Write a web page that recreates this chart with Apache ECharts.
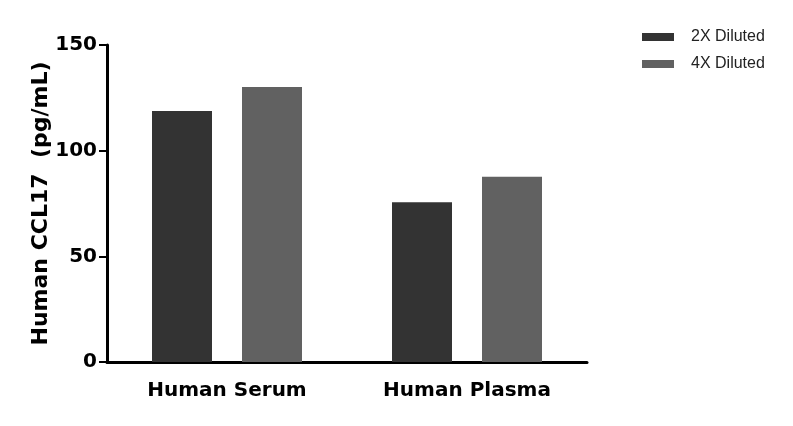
<!DOCTYPE html>
<html>
<head>
<meta charset="utf-8">
<script src="https://cdn.jsdelivr.net/npm/echarts@6/dist/echarts.min.js"></script>
<style>
  html, body { margin: 0; padding: 0; background: #fff; }
  #chart { width: 793px; height: 426px; }
</style>
</head>
<body>
<div id="chart"></div>
<script>
var categories = ['Human Serum', 'Human Plasma'];
var diluted2x = [118.8, 75.6];
var diluted4x = [130.1, 87.7];
var yTicks = [0, 50, 100, 150];

var chart = echarts.init(document.getElementById('chart'));

var option = {
  animation: false,
  backgroundColor: '#fff',
  grid: {
    left: 107,
    top: 45,
    width: 480,
    height: 317
  },
  legend: {
    orient: 'vertical',
    left: 637,
    top: 24,
    itemWidth: 32,
    itemHeight: 8,
    itemGap: 11,
    icon: 'rect',
    textStyle: {
      fontFamily: 'Liberation Sans',
      fontSize: 16,
      color: '#222',
      padding: [0, 0, 0, 12]
    },
    data: ['2X Diluted', '4X Diluted']
  },
  xAxis: {
    type: 'category',
    data: categories,
    axisLine: { lineStyle: { color: '#000', width: 3 } },
    axisTick: { alignWithLabel: true, length: 7, lineStyle: { color: '#000', width: 2 } },
    axisLabel: {
      margin: 19,
      fontFamily: 'DejaVu Sans',
      fontWeight: 'bold',
      fontSize: 20,
      color: '#000'
    }
  },
  yAxis: {
    type: 'value',
    min: yTicks[0],
    max: yTicks[yTicks.length - 1],
    interval: 50,
    name: 'Human CCL17  (pg/mL)',
    nameLocation: 'middle',
    nameGap: 55,
    nameMoveOverlap: false,
    nameTextStyle: {
      fontFamily: 'DejaVu Sans',
      fontWeight: 'bold',
      fontSize: 22,
      color: '#000'
    },
    splitLine: { show: false },
    axisLine: { show: true, lineStyle: { color: '#000', width: 3 } },
    axisTick: { show: true, length: 8, lineStyle: { color: '#000', width: 2 } },
    axisLabel: {
      margin: 10,
      fontFamily: 'DejaVu Sans',
      fontWeight: 'bold',
      fontSize: 20,
      color: '#000'
    }
  },
  series: [
    {
      name: '2X Diluted',
      type: 'bar',
      data: diluted2x,
      barWidth: 60,
      barGap: '50%',
      itemStyle: { color: '#333333' }
    },
    {
      name: '4X Diluted',
      type: 'bar',
      data: diluted4x,
      barWidth: 60,
      barGap: '50%',
      itemStyle: { color: '#616161' }
    }
  ]
};

chart.setOption(option);
</script>
</body>
</html>
